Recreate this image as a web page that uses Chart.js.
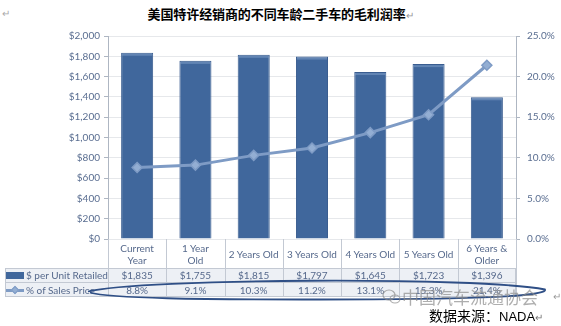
<!DOCTYPE html>
<html>
<head>
<meta charset="utf-8">
<script src="https://cdn.jsdelivr.net/npm/chart.js@4/dist/chart.umd.min.js"></script>
<style>
  html, body { margin: 0; padding: 0; background: #fff; }
  #wrap { position: relative; width: 561px; height: 326px; overflow: hidden; }
  #chart { position: absolute; left: 0; top: 0; }
  .title { position: absolute; left: 0; width: 561px; top: 4px; text-align: center;
    font: bold 13px "Noto Sans CJK SC", sans-serif; color: #000; letter-spacing: -0.1px; }
  .ret { color: #999; font-weight: normal; font-size: 10px; }
  .cell { position: absolute; box-sizing: border-box; display: flex; align-items: center;
    justify-content: center; text-align: center; font: 10px Lato, sans-serif; color: #56698c; line-height: 12px; }
  .src { position: absolute; left: 429px; top: 305px; font: 14px "Noto Sans CJK SC", sans-serif; color: #000; }
  .src .en { font: 13px "Liberation Sans", sans-serif; }
  .wm { position: absolute; left: 402px; top: 284px; font: 17px "Noto Sans CJK SC", sans-serif; color: rgba(140,140,140,0.7); }
</style>
</head>
<body>
<div id="wrap">
  <div class="title">美国特许经销商的不同车龄二手车的毛利润率<span class="ret">↵</span></div>
  <div style="position:absolute;left:2px;top:8px;font:10px sans-serif;color:#aaa;">↵</div>
  <canvas id="chart" width="561" height="326"></canvas>
  <div id="table"></div>
  <svg id="marks" width="561" height="326" style="position:absolute;left:0;top:0;pointer-events:none;"></svg>
  <div class="wm">中国汽车流通协会</div>
  <div style="position:absolute;left:553px;top:291px;font:10px sans-serif;color:#999;">↵</div>
  <div class="src">数据来源：<span class="en">NADA</span><span style="font-size:10px;color:#777;">↵</span></div>
</div>
<script>
// Categories and series
const categories = [["Current", "Year"], ["1 Year", "Old"], "2 Years Old", "3 Years Old", "4 Years Old", "5 Years Old", ["6 Years &", "Older"]];
const perUnitRetailed = [1835, 1755, 1815, 1797, 1645, 1723, 1396];
const pctOfSalesPrice = [8.8, 9.1, 10.3, 11.2, 13.1, 15.3, 21.4];
const perUnitLabels = ["$1,835", "$1,755", "$1,815", "$1,797", "$1,645", "$1,723", "$1,396"];
const pctLabels = ["8.8%", "9.1%", "10.3%", "11.2%", "13.1%", "15.3%", "21.4%"];
const seriesNames = ["$ per Unit Retailed", "% of Sales Price"];

const barColor = "#40679c";
const lineColor = "#7e9bc5";
const tickColor = "#5a6e91";

const chart = new Chart(document.getElementById("chart"), {
  type: "bar",
  data: {
    labels: categories,
    datasets: [
      {
        type: "line", label: seriesNames[1], data: pctOfSalesPrice, yAxisID: "y1",
        borderColor: lineColor, borderWidth: 3, pointStyle: "rectRot", pointRadius: 5,
        pointBackgroundColor: "#93aed3", pointBorderColor: lineColor, pointBorderWidth: 1.5,
        tension: 0, order: 0
      },
      {
        label: seriesNames[0], data: perUnitRetailed, yAxisID: "y",
        backgroundColor: barColor, borderColor: "#3a5d90", borderWidth: { top: 1, left: 1, right: 1, bottom: 0 },
        categoryPercentage: 1, barPercentage: 0.55, order: 1
      }
    ]
  },
  options: {
    responsive: false, animation: false, devicePixelRatio: 1,
    layout: { autoPadding: false, padding: { top: 36, bottom: 87, left: 0, right: 0 } },
    plugins: { legend: { display: false }, tooltip: { enabled: false }, title: { display: false } },
    scales: {
      x: {
        ticks: { display: false }, grid: { display: false }, border: { display: false },
        afterFit: s => { s.height = 0; }
      },
      y: {
        position: "left", min: 0, max: 2000,
        ticks: { stepSize: 200, color: tickColor, font: { family: "Lato", size: 10 }, padding: 4,
          callback: v => "$" + v.toLocaleString("en-US") },
        grid: { color: "#e6e8eb", tickColor: "#aeb6c2", tickLength: 4 },
        border: { color: "#aeb6c2" },
        afterFit: s => { s.width = 108; }
      },
      y1: {
        position: "right", min: 0, max: 25,
        ticks: { stepSize: 5, color: tickColor, font: { family: "Lato", size: 10 }, padding: 7,
          callback: v => v.toFixed(1) + "%" },
        grid: { drawOnChartArea: false, tickColor: "#aeb6c2", tickLength: 4 },
        border: { color: "#aeb6c2" },
        afterFit: s => { s.width = 45; }
      }
    }
  },
  plugins: [{
    // lighter bevel along the top of each bar
    id: "barBevel",
    afterDatasetsDraw(c) {
      const meta = c.getDatasetMeta(1);
      const ctx = c.ctx;
      ctx.save();
      ctx.fillStyle = "rgba(140,170,210,0.45)";
      meta.data.forEach(b => {
        const w = b.width;
        ctx.fillRect(b.x - w / 2 + 1, b.y + 1, w - 2, 2);
      });
      ctx.restore();
    }
  }]
});

// Data table below the plot, aligned to the category scale
(function buildTable() {
  const area = chart.chartArea;
  const xs = chart.scales.x;
  const n = categories.length;
  const colW = (area.right - area.left) / n;
  const top = area.bottom;
  const rows = [top, top + 29, top + 43, top + 58];
  const table = document.getElementById("table");
  const border = "#c3c9d3";
  const add = (html, l, t, w, h, css) => {
    const d = document.createElement("div");
    d.className = "cell";
    d.style.left = l + "px"; d.style.top = t + "px";
    d.style.width = w + "px"; d.style.height = h + "px";
    if (css) Object.assign(d.style, css);
    d.innerHTML = html;
    table.appendChild(d);
  };
  // shaded value rows
  add("", 5, rows[1], area.right - 5, rows[3] - rows[1], { background: "#edf0f5", border: "1px solid " + border });
  add("", 5, rows[2], area.right - 5, 0, { borderTop: "1px solid " + border });
  for (let i = 0; i < n; i++) {
    const cx = xs.getPixelForValue(i);
    const l = cx - colW / 2;
    const lab = Array.isArray(categories[i]) ? categories[i].join("<br>") : categories[i];
    add(lab, l, rows[0], colW, rows[1] - rows[0]);
    add(perUnitLabels[i], l, rows[1], colW, rows[2] - rows[1]);
    add(pctLabels[i], l, rows[2], colW, rows[3] - rows[2]);
    add("", l + colW, rows[0], 0, rows[3] - rows[0], { borderLeft: "1px solid " + border });
  }
  add("", area.left, rows[0], 0, rows[3] - rows[0], { borderLeft: "1px solid " + border });
  // legend cells
  add('<span style="display:inline-block;width:18px;height:7px;background:' + barColor + ';margin-right:2px;"></span>' + seriesNames[0],
    5, rows[1], area.left - 5, rows[2] - rows[1], { justifyContent: "flex-start", paddingLeft: "1px" });
  add('<span style="position:relative;display:inline-block;width:18px;height:8px;margin-right:2px;">' +
      '<span style="position:absolute;left:0;top:3px;width:18px;height:3px;background:' + lineColor + ';"></span>' +
      '<span style="position:absolute;left:6px;top:1px;width:6px;height:6px;background:#93aed3;border:1px solid ' + lineColor + ';transform:rotate(45deg);box-sizing:border-box;"></span>' +
      '</span>' + seriesNames[1],
    5, rows[2], area.left - 5, rows[3] - rows[2], { justifyContent: "flex-start", paddingLeft: "1px" });

  // hand-drawn highlight ring around the percentage row, and the watermark icon
  const svg = document.getElementById("marks");
  const cy = (rows[2] + rows[3]) / 2 + 1;
  svg.innerHTML =
    '<path d="M88 ' + (cy + 1) + ' C 140 ' + (cy - 12) + ', 480 ' + (cy - 14) + ', 545 ' + (cy - 1) +
    ' C 548 ' + (cy + 6) + ', 470 ' + (cy + 9) + ', 320 ' + (cy + 9) + ' C 200 ' + (cy + 9) + ', 110 ' + (cy + 8) + ', 90 ' + (cy + 2) +
    '" fill="none" stroke="#2f4f86" stroke-width="1.8"/>' +
    '<g fill="none" stroke="rgba(140,140,140,0.7)" stroke-width="1.2">' +
    '<ellipse cx="389" cy="295" rx="6" ry="5"/><ellipse cx="395" cy="299" rx="5" ry="4"/></g>';
})();
</script>
</body>
</html>
